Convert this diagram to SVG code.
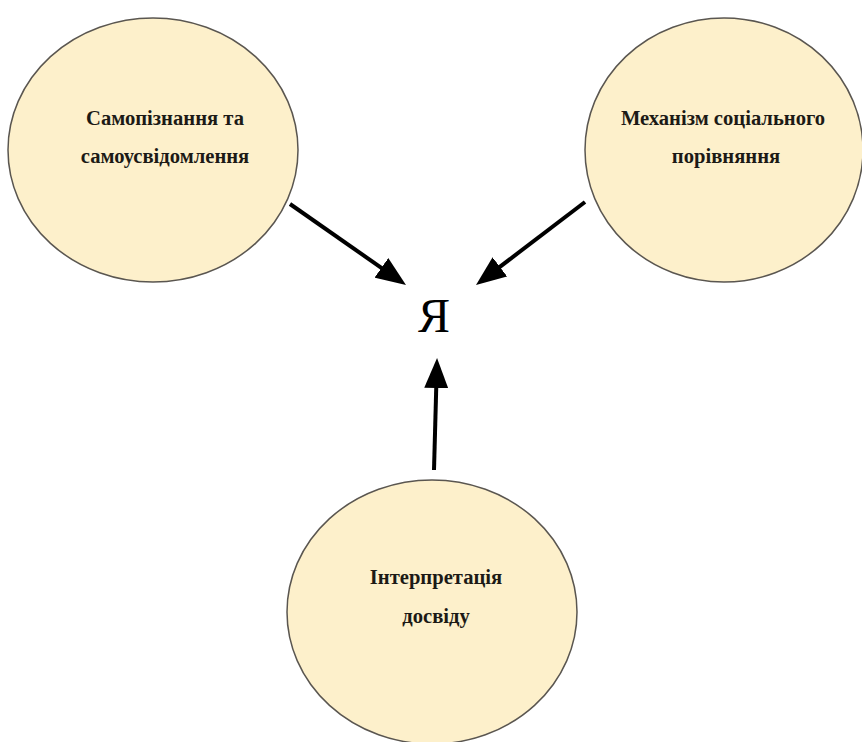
<svg xmlns="http://www.w3.org/2000/svg" width="862" height="742" viewBox="0 0 862 742">
<style>
.node ellipse{fill:#fdf0cb;stroke:#5a5650;stroke-width:1.5}
.node text{font-family:"Liberation Serif","Times New Roman",serif;font-weight:bold;font-size:20.6px;fill:#1c1a16;text-anchor:middle}
.conn line{stroke:#000;stroke-width:4;marker-end:url(#ah)}
.me{font-family:"Liberation Serif","Times New Roman",serif;font-size:48px;fill:#000;text-anchor:middle}
</style>
<defs>
<marker id="ah" markerUnits="userSpaceOnUse" markerWidth="30" markerHeight="24" refX="10" refY="12" orient="auto">
<path d="M0,0 L30,12 L0,24 z" fill="#000"/>
</marker>
</defs>
<rect width="862" height="742" fill="#fff"/>
<g id="node-self-knowledge" class="node">
<ellipse cx="153" cy="150" rx="145" ry="132"/>
<text x="165" y="125">Самопізнання та</text>
<text x="165" y="163">самоусвідомлення</text>
</g>
<g id="node-social-comparison" class="node">
<ellipse cx="724" cy="150" rx="139" ry="132"/>
<text x="723" y="125">Механізм соціального</text>
<text x="726" y="163">порівняння</text>
</g>
<g id="node-experience" class="node">
<ellipse cx="432" cy="612" rx="145" ry="132"/>
<text x="436" y="584">Інтерпретація</text>
<text x="436" y="623">досвіду</text>
</g>
<g id="node-self">
<text class="me" x="434" y="332">Я</text>
</g>
<g id="connectors" class="conn">
<line x1="290" y1="204" x2="389.6" y2="273.6"/>
<line x1="585" y1="202" x2="491.9" y2="272.9"/>
<line x1="434" y1="470" x2="436.5" y2="378"/>
</g>
</svg>
